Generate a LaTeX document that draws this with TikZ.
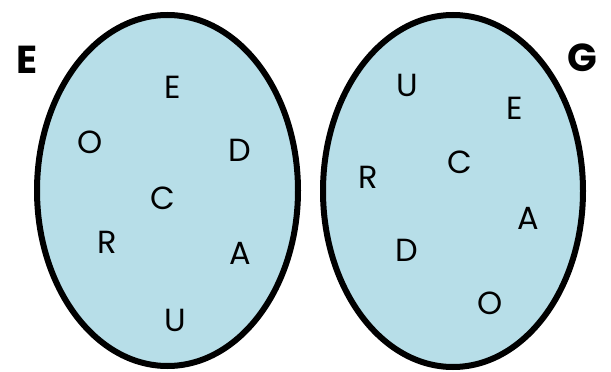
\documentclass[tikz,border=0pt]{standalone}
\usepackage{fontspec}
\setmainfont{Poppins}
\definecolor{setblue}{RGB}{183,222,232}
\tikzset{
	setshape/.style={draw=black, line width=6pt, fill=setblue},
	elem/.style={font=\fontsize{32}{32}\selectfont, inner sep=0pt},
	setname/.style={font=\fontsize{39}{39}\selectfont\bfseries, inner sep=0pt}
}

\begin{document}
\begin{tikzpicture}[x=1pt, y=-1pt]
			%%%%% START %%%%%
			\useasboundingbox (0, 0) rectangle (611, 372);
			
			% the two sets
			\draw[setshape] (167.5, 190.5) ellipse (130.5 and 175.5);
			\draw[setshape] (453, 191) ellipse (130 and 176);
			
			\node[setname] (nameE) at (27, 60) {E};
			\node[setname] (nameG) at (582, 58) {G};
			
			% letters of set E
			\node[elem] (eE) at (173, 87) {E};
			\node[elem] (eO) at (90, 142) {O};
			\node[elem] (eD) at (240, 150) {D};
			\node[elem] (eC) at (163, 198) {C};
			\node[elem] (eR) at (107, 242) {R};
			\node[elem] (eA) at (240, 253) {A};
			\node[elem] (eU) at (175, 320) {U};
			
			% letters of set G
			\node[elem] (gU) at (407, 85) {U};
			\node[elem] (gE) at (515, 108) {E};
			\node[elem] (gC) at (460, 162) {C};
			\node[elem] (gR) at (368, 177) {R};
			\node[elem] (gA) at (528, 218) {A};
			\node[elem] (gD) at (407, 250) {D};
			\node[elem] (gO) at (490, 303) {O};
			
			%%%%% END %%%%%
\end{tikzpicture}
\end{document}
